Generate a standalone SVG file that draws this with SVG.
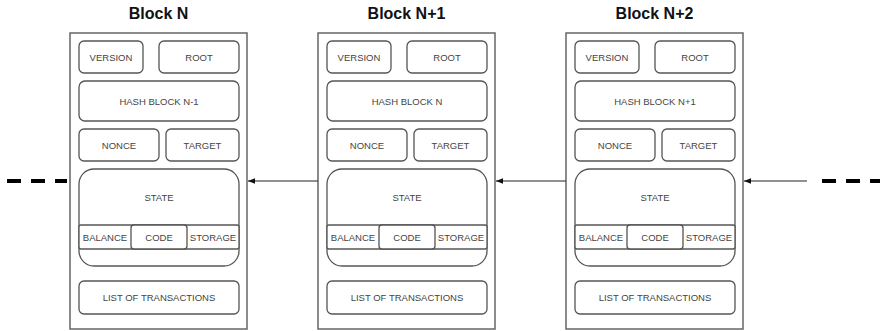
<svg xmlns="http://www.w3.org/2000/svg" width="880" height="331" viewBox="0 0 880 331">
<style>
.outer{fill:#fff;stroke:#666;stroke-width:1.5}
.box{fill:#fff;stroke:#555;stroke-width:1.3}
.t{font-family:"Liberation Sans",Arial,sans-serif;font-size:9.5px;fill:#444;text-anchor:middle;dominant-baseline:central}
.title{font-family:"Liberation Sans",Arial,sans-serif;font-size:16px;font-weight:bold;fill:#111;text-anchor:middle}
.conn{stroke:#222;stroke-width:1;fill:none}
.dash{stroke:#000;stroke-width:4;stroke-dasharray:14 10;fill:none}
</style>
<defs>
<marker id="ah" viewBox="0 0 10 10" refX="10" refY="5" markerWidth="7" markerHeight="7" orient="auto" markerUnits="userSpaceOnUse">
<path d="M0,1 L10,5 L0,9 Z" fill="#111"/>
</marker>
<g id="blk">
<rect class="outer" x="0" y="33" width="177" height="296"/>
<rect class="box" x="9" y="41" width="64" height="32" rx="5"/>
<text class="t" x="41" y="57">VERSION</text>
<rect class="box" x="89" y="41" width="80" height="32" rx="5"/>
<text class="t" x="129" y="57">ROOT</text>
<rect class="box" x="9" y="81" width="160" height="40" rx="6"/>
<rect class="box" x="9" y="129" width="80" height="32" rx="5"/>
<text class="t" x="49" y="145">NONCE</text>
<rect class="box" x="96" y="129" width="73" height="32" rx="5"/>
<text class="t" x="132.5" y="145">TARGET</text>
<rect class="box" x="9" y="169" width="160" height="97" rx="15"/>
<text class="t" x="89" y="197">STATE</text>
<rect class="box" x="9" y="225" width="160" height="24" rx="2"/>
<rect class="box" x="61" y="225" width="56" height="24" rx="3"/>
<text class="t" x="35" y="237">BALANCE</text>
<text class="t" x="89" y="237">CODE</text>
<text class="t" x="143" y="237">STORAGE</text>
<rect class="box" x="9" y="281" width="160" height="33" rx="5"/>
<text class="t" x="89" y="297.5">LIST OF TRANSACTIONS</text>
</g>
</defs>
<g id="block-n" transform="translate(70,0)">
<text class="title" x="88.5" y="19">Block N</text>
<use href="#blk"/>
<text class="t" x="89" y="101">HASH BLOCK N-1</text>
</g>
<g id="block-n1" transform="translate(318,0)">
<text class="title" x="88.5" y="19">Block N+1</text>
<use href="#blk"/>
<text class="t" x="89" y="101">HASH BLOCK N</text>
</g>
<g id="block-n2" transform="translate(566,0)">
<text class="title" x="88.5" y="19">Block N+2</text>
<use href="#blk"/>
<text class="t" x="89" y="101">HASH BLOCK N+1</text>
</g>
<g id="connectors">
<line class="dash" x1="7" y1="181" x2="67" y2="181"/>
<line class="conn" x1="318" y1="181" x2="248" y2="181" marker-end="url(#ah)"/>
<line class="conn" x1="566" y1="181" x2="496" y2="181" marker-end="url(#ah)"/>
<line class="conn" x1="807" y1="181" x2="744" y2="181" marker-end="url(#ah)"/>
<line class="dash" x1="822" y1="181" x2="882" y2="181"/>
</g>
</svg>
